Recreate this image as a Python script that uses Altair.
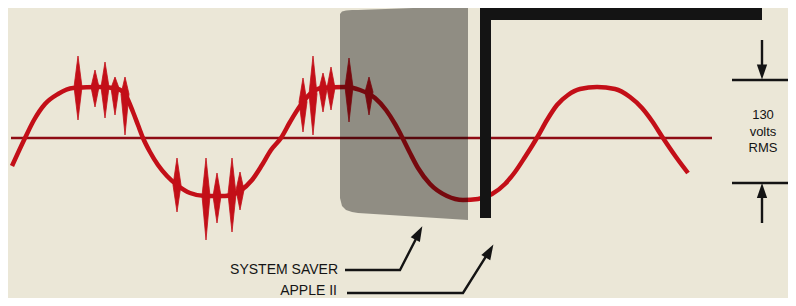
import altair as alt
import pandas as pd

BG = "#ebe7d7"
RED = "#c30f18"
DARKRED = "#8e0c14"
INK = "#141414"

# zero (reference) line
base_x = [11, 712]
base_y = [138, 138]

# the AC wave (pixel-like units, y grows downward)
wave_x = [12, 25, 34, 45, 58, 73, 100, 118, 126, 133, 138, 143, 150, 158, 167, 177, 190, 205,
          225, 240, 252, 262, 271, 281, 290, 300, 310, 322, 345, 360, 375, 386, 395, 402, 410,
          418, 430, 447, 463, 478, 492, 505, 515, 525, 532, 538, 547, 557, 568, 580, 597, 615,
          630, 642, 652, 663, 676, 688]
wave_y = [166, 138, 120, 104, 94, 88, 87, 89, 96, 112, 125, 138, 152, 165, 176, 185, 193, 196,
          196, 191, 180, 165, 150, 138, 122, 106, 94, 88, 87, 90, 98, 110, 124, 137, 153,
          168, 184, 196, 200, 199, 194, 184, 172, 157, 146, 136, 120, 105, 95, 89, 87, 89,
          97, 108, 121, 138, 157, 173]

# voltage spikes riding on the wave
spike_x = [78, 95, 105, 115, 125, 177, 206, 217, 232, 240, 303, 313, 323, 331, 349, 369]
spike_top = [56, 70, 62, 77, 77, 158, 158, 173, 158, 172, 78, 56, 73, 67, 58, 77]
spike_bot = [120, 107, 118, 115, 135, 212, 240, 223, 232, 210, 132, 135, 112, 110, 122, 115]
spike_mid = [87, 87, 87, 88, 94, 185, 196, 196, 194, 190, 102, 94, 89, 88, 87, 92]

# System Saver panel outline (left rounded edge to right edge)
panel_x = [340, 342, 346, 352, 358, 468]
panel_top = [14, 11.5, 10.5, 10, 10, 6]
panel_bot = [198, 206, 210, 212, 213, 220]

# Apple II "L" shape
bar_x = [480, 480]
bar_x2 = [491, 762]
bar_y = [7, 8]
bar_y2 = [218, 20]

# leader / dimension lines: (id, x, y)
line_id = ["tt", "tt", "bt", "bt", "ta", "ta", "ba", "ba", "ss", "ss", "ss", "ap", "ap", "ap"]
line_x = [732, 790, 732, 790, 762, 762, 762, 762, 345, 400, 419, 347, 463, 490]
line_y = [80, 80, 183, 183, 40, 70, 193, 223, 270, 270, 233, 293, 293, 250]

# arrow heads
head_x = [762, 762, 418.8, 489.6]
head_y = [72, 190.5, 233, 251]
head_angle = [180, 0, 27.6, 30.0]

# texts
dim_text = ["130", "volts", "RMS"]
dim_x = [763, 763, 763]
dim_y = [115, 132, 148]
lab_text = ["SYSTEM SAVER", "APPLE II"]
lab_x = [338, 337]
lab_y = [270, 291]

xs = alt.Scale(domain=[8, 788], nice=False, zero=False)
ys = alt.Scale(domain=[8, 298], reverse=True, nice=False, zero=False)


def X(f="x"):
    return alt.X(f"{f}:Q", scale=xs, axis=None)


def Y(f="y"):
    return alt.Y(f"{f}:Q", scale=ys, axis=None)


base = alt.Chart(pd.DataFrame({"x": base_x, "y": base_y})).mark_line(
    color=DARKRED, strokeWidth=2.5
).encode(x=X(), y=Y())

wave = alt.Chart(pd.DataFrame({"x": wave_x, "y": wave_y})).mark_line(
    color=RED, strokeWidth=4.5, interpolate="monotone"
).encode(x=X(), y=Y())

HW = 4
rows = []
for i, (sx, t, b, m) in enumerate(zip(spike_x, spike_top, spike_bot, spike_mid)):
    rows.append({"id": i, "x": sx - HW, "y": m, "y2": m})
    rows.append({"id": i, "x": sx, "y": t, "y2": b})
    rows.append({"id": i, "x": sx + HW, "y": m, "y2": m})
spikes = alt.Chart(pd.DataFrame(rows)).mark_area(
    color=RED, opacity=1, stroke=RED, strokeWidth=0.8
).encode(x=X(), y=Y(), y2=alt.Y2("y2:Q"), detail="id:N")

panel = alt.Chart(pd.DataFrame({"x": panel_x, "y": panel_top, "y2": panel_bot})).mark_area(
    color="#000000", opacity=0.39
).encode(x=X(), y=Y(), y2=alt.Y2("y2:Q"))

bars = alt.Chart(pd.DataFrame({"x": bar_x, "x2": bar_x2, "y": bar_y, "y2": bar_y2})).mark_rect(
    color=INK
).encode(x=X(), x2=alt.X2("x2:Q"), y=Y(), y2=alt.Y2("y2:Q"))

ldf = pd.DataFrame({"id": line_id, "x": line_x, "y": line_y, "k": list(range(len(line_id)))})
lines = alt.Chart(ldf).mark_line(color=INK, strokeWidth=2.4).encode(
    x=X(), y=Y(), detail="id:N", order=alt.Order("k:Q")
)

HEAD = "M0,-1 L0.68,1 L-0.68,1 Z"
heads = alt.Chart(pd.DataFrame({"x": head_x, "y": head_y, "a": head_angle})).mark_point(
    shape=HEAD, filled=True, color=INK, opacity=1, size=230, strokeWidth=0
).encode(x=X(), y=Y(), angle=alt.Angle("a:Q", scale=None))

dims = alt.Chart(pd.DataFrame({"x": dim_x, "y": dim_y, "t": dim_text})).mark_text(
    font="Liberation Sans Narrow, Liberation Sans, Arial", fontSize=13, color=INK,
    align="center", baseline="middle"
).encode(x=X(), y=Y(), text="t:N")

labs = alt.Chart(pd.DataFrame({"x": lab_x, "y": lab_y, "t": lab_text})).mark_text(
    font="Liberation Sans, Arial", fontSize=14, color=INK,
    align="right", baseline="middle"
).encode(x=X(), y=Y(), text="t:N")

chart = alt.layer(base, wave, spikes, panel, bars, lines, heads, dims, labs).properties(
    width=780, height=290, background=BG, padding=0, autosize="none"
).configure_view(stroke=None)

chart.save("out.html", embed_options={"renderer": "svg", "actions": False})
